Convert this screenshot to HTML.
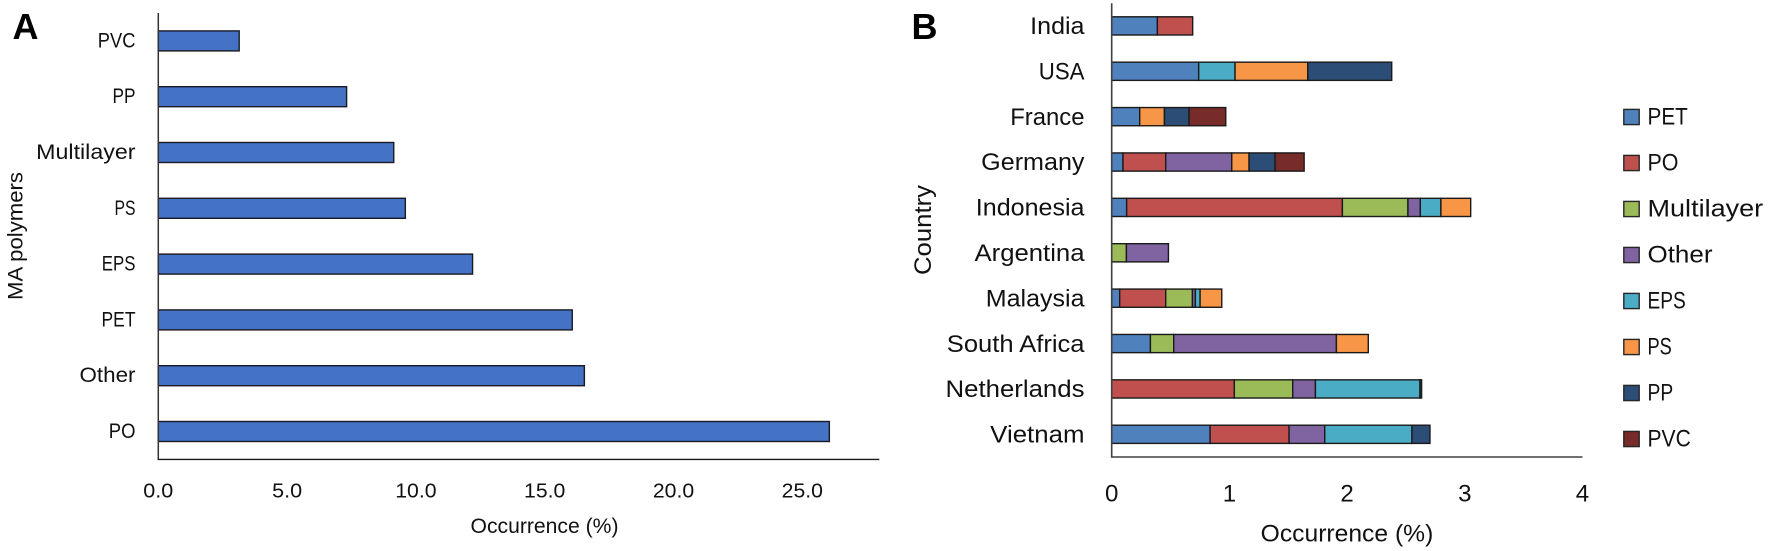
<!DOCTYPE html>
<html lang="en">
<head>
<meta charset="utf-8">
<title>MA polymers occurrence</title>
<style>
html,body{margin:0;padding:0;background:#fff;}
svg{display:block;}
text{font-family:"Liberation Sans",Arial,sans-serif;fill:#111;}
</style>
</head>
<body>
<svg id="figure" xmlns="http://www.w3.org/2000/svg" width="1772" height="551" viewBox="0 0 1772 551">
  <rect x="0" y="0" width="1772" height="551" fill="#ffffff"/>
  <text x="12.5" y="39" font-size="36" font-weight="bold" style="fill:#000">A</text>
  <text x="911.5" y="39" font-size="36" font-weight="bold" style="fill:#000">B</text>
  <g id="chart-a"></g>
  <g id="chart-b"></g>
  <g id="legend-b"></g>
</svg>
<script>
/* Panel A data */
const polymerCategories = ['PVC','PP','Multilayer','PS','EPS','PET','Other','PO'];
const polymerValues = [3.14,7.31,9.14,9.59,12.2,16.07,16.54,26.05];
const polymerTicks = [0,5,10,15,20,25];

/* Panel B data */
const countryCategories = ['India','USA','France','Germany','Indonesia','Argentina','Malaysia','South Africa','Netherlands','Vietnam'];
const seriesNames = ['PET','PO','Multilayer','Other','EPS','PS','PP','PVC'];
const petValues = [0.388,0.739,0.238,0.096,0.127,0,0.068,0.329,0,0.836];
const poValues = [0.30,0,0,0.363,1.833,0,0.391,0,1.042,0.671];
const multilayerValues = [0,0,0,0,0.557,0.125,0.227,0.198,0.496,0];
const otherValues = [0,0,0,0.561,0.105,0.357,0.025,1.382,0.193,0.303];
const epsValues = [0,0.309,0,0,0.175,0,0.04,0,0.888,0.741];
const psValues = [0,0.618,0.21,0.147,0.253,0,0.184,0.271,0,0];
const ppValues = [0,0.713,0.209,0.221,0,0,0,0,0.014,0.153];
const pvcValues = [0,0,0.312,0.247,0,0,0,0,0,0];
const countryTicks = [0,1,2,3,4];

/* Styling */
const seriesColors = ['#4f81bd','#c0504d','#9bbb59','#8064a2','#4bacc6','#f79646','#2c4d75','#772c2a'];
const allSeries = [petValues,poValues,multilayerValues,otherValues,epsValues,psValues,ppValues,pvcValues];
const NS = 'http://www.w3.org/2000/svg';

/* Rendered widths that emulate the metrics of the original typeface */
const widthA = {PVC:37.7,PP:23,Multilayer:99.3,PS:21,EPS:33.7,PET:34,Other:56,PO:26.7};
const widthB = {India:54.3,USA:45.7,France:74.3,Germany:103.3,Indonesia:108.7,Argentina:110,Malaysia:98.7,'South Africa':137.7,Netherlands:139,Vietnam:94.3};
const widthLegend = {PET:40.3,PO:31,Multilayer:115.7,Other:65,EPS:38.3,PS:24.3,PP:25.7,PVC:43.3};

function makeText(parent, str, x, y, size, anchor, len) {
  const t = document.createElementNS(NS, 'text');
  t.setAttribute('x', x);
  t.setAttribute('y', y);
  t.setAttribute('font-size', size);
  t.setAttribute('text-anchor', anchor);
  if (len) {
    t.setAttribute('textLength', len);
    t.setAttribute('lengthAdjust', 'spacingAndGlyphs');
  }
  t.textContent = str;
  parent.appendChild(t);
  return t;
}
function makeLine(parent, x1, y1, x2, y2, color, w) {
  const l = document.createElementNS(NS, 'line');
  l.setAttribute('x1', x1);
  l.setAttribute('y1', y1);
  l.setAttribute('x2', x2);
  l.setAttribute('y2', y2);
  l.setAttribute('stroke', color);
  l.setAttribute('stroke-width', w);
  parent.appendChild(l);
  return l;
}
function makeRect(parent, x, y, w, h, fill, stroke, sw) {
  const r = document.createElementNS(NS, 'rect');
  r.setAttribute('x', x);
  r.setAttribute('y', y);
  r.setAttribute('width', w);
  r.setAttribute('height', h);
  r.setAttribute('fill', fill);
  r.setAttribute('stroke', stroke);
  r.setAttribute('stroke-width', sw);
  parent.appendChild(r);
  return r;
}

/* ---------- Panel A ---------- */
(function () {
  const g = document.getElementById('chart-a');
  const x0 = 158.3, pxPerUnit = 25.76, top = 13, bottom = 459.4, right = 879.3;
  const band = (bottom - top) / polymerCategories.length;
  const xA = v => x0 + v * pxPerUnit;
  const yA = i => top + band * (i + 0.5);
  const barH = 20;

  polymerCategories.forEach((c, i) => {
    const bar = makeRect(g, x0, yA(i) - barH / 2, xA(polymerValues[i]) - x0, barH, '#4472c4', '#1a1a24', 1.4);
    
    
    const lab = makeText(g, c, 135.5, yA(i) + 6.5, 21, 'end', widthA[c]);
    
    
  });

  const yAxis = makeLine(g, x0, top, x0, bottom, '#333333', 1.5);
  
  
  const xAxis = makeLine(g, x0 - 0.7, bottom, right, bottom, '#1a1a1a', 1.4);
  
  

  polymerTicks.forEach(v => {
    const s = v.toFixed(1);
    const t = makeText(g, s, xA(v), 497.3, 20, 'middle', s.length > 3 ? 41.3 : 30);
    
    
  });

  const xt = makeText(g, 'Occurrence (%)', 544.5, 533, 21, 'middle', 148);
  
  
  const yt = makeText(g, 'MA polymers', 0, 0, 21, 'middle', 128);
  yt.setAttribute('transform', 'translate(22.7 236) rotate(-90)');
  
  
})();

/* ---------- Panel B ---------- */
(function () {
  const g = document.getElementById('chart-b');
  const x0 = 1111.7, pxPerUnit = 117.7, top = 3.2, bottom = 457;
  const band = (bottom - top) / countryCategories.length;
  const xB = v => x0 + v * pxPerUnit;
  const yB = i => top + band * (i + 0.5);
  const barH = 18.2;

  countryCategories.forEach((c, i) => {
    let acc = 0;
    seriesNames.forEach((s, k) => {
      const v = allSeries[k][i];
      if (v > 0) {
        const seg = makeRect(g, xB(acc), yB(i) - barH / 2, v * pxPerUnit, barH, seriesColors[k], '#1a1a1a', 1.4);
        
        
        acc += v;
      }
    });
    const lab = makeText(g, c, 1084.5, yB(i) + 8.2, 24, 'end', widthB[c]);
    
    
  });

  const yAxis = makeLine(g, x0, top, x0, bottom, '#404040', 1.6);
  
  
  const xAxis = makeLine(g, x0 - 0.8, bottom, xB(4), bottom, '#404040', 1.5);
  
  

  countryTicks.forEach(v => {
    const t = makeText(g, String(v), xB(v), 501.7, 24, 'middle', 13.4);
    
    
  });

  const xt = makeText(g, 'Occurrence (%)', 1347, 541.7, 24, 'middle', 172.6);
  
  
  const yt = makeText(g, 'Country', 0, 0, 24, 'middle', 90);
  yt.setAttribute('transform', 'translate(931 230) rotate(-90)');
  
  

  /* Legend */
  const lg = document.getElementById('legend-b');
  seriesNames.forEach((s, k) => {
    const cy = 117 + 46 * k;
    const sw = makeRect(lg, 1623.8, cy - 7.6, 15.4, 15.2, seriesColors[k], '#262626', 1.4);
    
    
    const t = makeText(lg, s, 1647.5, cy + 7.6, 24, 'start', widthLegend[s]);
    
    
  });
})();
</script>
</body>
</html>
